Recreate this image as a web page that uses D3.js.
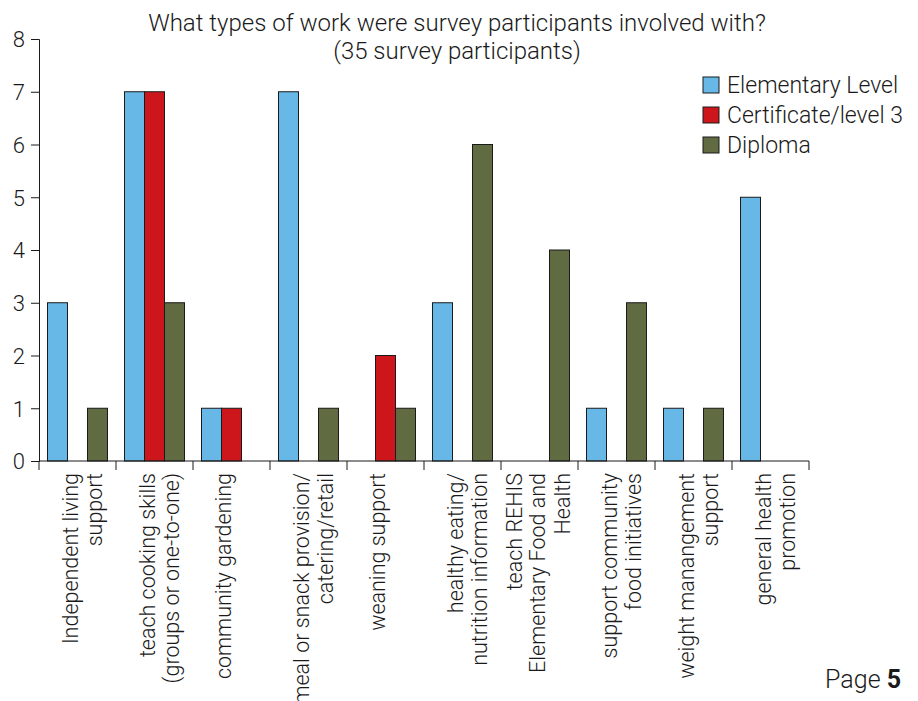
<!DOCTYPE html>
<html>
<head>
<meta charset="utf-8">
<script src="https://cdn.jsdelivr.net/npm/d3@7"></script>
<style>
  body { margin: 0; background: #fff; }
  svg text { font-family: Roboto, "Noto Sans", sans-serif; fill: #1a1a1a; font-weight: 300; }
</style>
</head>
<body>
<div id="chart"></div>
<script>
/*chart data*/
const categories = [
  ["Independent living", "support"],
  ["teach cooking skills", "(groups or one-to-one)"],
  ["community gardening"],
  ["meal or snack provision/", "catering/retail"],
  ["weaning support"],
  ["healthy eating/", "nutrition information"],
  ["teach REHIS", "Elementary Food and", "Health"],
  ["support community", "food initiatives"],
  ["weight manangement", "support"],
  ["general health", "promotion"]
];
const seriesNames = ["Elementary Level", "Certificate/level 3", "Diploma"];
const elementary  = [3, 7, 1, 7, 0, 3, 0, 1, 1, 5];
const certificate = [0, 7, 1, 0, 2, 0, 0, 0, 0, 0];
const diploma     = [1, 3, 0, 1, 1, 6, 4, 3, 1, 0];
const yTicks = [0, 1, 2, 3, 4, 5, 6, 7, 8];
const colors = ["#67b8e7", "#cd161c", "#616b42"];

const width = 918;
const height = 701;
const plotLeft = 39, plotRight = 809, plotTop = 39, plotBottom = 461;

const svg = d3.select("#chart")
  .append("svg")
  .attr("width", width)
  .attr("height", height);

const catIdx = d3.range(categories.length);
const x0 = d3.scaleBand().domain(catIdx).range([plotLeft, plotRight]);
const x1 = d3.scaleBand().domain(d3.range(3)).range([8.5, 68.5]);
const y = d3.scaleLinear().domain([0, 8]).range([plotBottom, plotTop]);

/*bars*/
const allSeries = [elementary, certificate, diploma];
allSeries.forEach((vals, s) => {
  svg.append("g").selectAll("rect")
    .data(vals.map((v, i) => ({v: v, i: i})).filter(d => d.v > 0))
    .join("rect")
    .attr("x", d => x0(d.i) + x1(s))
    .attr("y", d => y(d.v))
    .attr("width", x1.bandwidth())
    .attr("height", d => y(0) - y(d.v))
    .attr("fill", colors[s])
    .attr("stroke", "#1a1a1a")
    .attr("stroke-width", 1);
});

/*y axis*/
const yAxis = svg.append("g")
  .attr("transform", `translate(${plotLeft},0)`)
  .call(d3.axisLeft(y).tickValues(yTicks).tickSize(8).tickPadding(6).tickFormat(d3.format("d")));
yAxis.select(".domain").attr("stroke", "#1a1a1a");
yAxis.selectAll(".tick line").attr("stroke", "#1a1a1a");
yAxis.selectAll("text").style("font-size", "22px").attr("fill", "#1a1a1a").attr("dy", "0.36em");

/*x axis - ticks at category boundaries*/
const boundaries = catIdx.map(i => x0(i)).concat([plotRight]);
svg.append("line")
  .attr("x1", plotLeft).attr("x2", plotRight)
  .attr("y1", plotBottom).attr("y2", plotBottom)
  .attr("stroke", "#1a1a1a");
svg.append("g").selectAll("line")
  .data(boundaries)
  .join("line")
  .attr("x1", d => d).attr("x2", d => d)
  .attr("y1", plotBottom).attr("y2", plotBottom + 9)
  .attr("stroke", "#1a1a1a");

/*category labels, rotated*/
const lineOffsets = {1: [-1], 2: [0, 24], 3: [-18, 5.5, 30.5]};
categories.forEach((lines, i) => {
  const cx = x0(i) + x0.bandwidth() / 2;
  lines.forEach((t, k) => {
    const bx = cx + lineOffsets[lines.length][k];
    svg.append("text")
      .attr("transform", `translate(${bx},${plotBottom + 12}) rotate(-90)`)
      .attr("text-anchor", "end")
      .style("font-size", "21.5px")
      .text(t);
  });
});

/*title*/
svg.append("text")
  .attr("x", 457).attr("y", 31)
  .attr("text-anchor", "middle")
  .style("font-size", "24px")
  .text("What types of work were survey participants involved with?");
svg.append("text")
  .attr("x", 457).attr("y", 59)
  .attr("text-anchor", "middle")
  .style("font-size", "24px")
  .text("(35 survey participants)");

/*legend*/
const legend = svg.append("g").attr("transform", "translate(703,77)");
seriesNames.forEach((name, s) => {
  const g = legend.append("g").attr("transform", `translate(0,${s * 30})`);
  g.append("rect")
    .attr("width", 16).attr("height", 16)
    .attr("fill", colors[s])
    .attr("stroke", "#1a1a1a");
  g.append("text")
    .attr("x", 24).attr("y", 8)
    .attr("dy", "0.36em")
    .style("font-size", "23px")
    .text(name);
});

/*page number*/
const page = svg.append("text")
  .attr("x", 901).attr("y", 688)
  .attr("text-anchor", "end")
  .style("font-size", "25px");
page.append("tspan").text("Page ");
page.append("tspan").style("font-weight", "bold").text("5");
</script>
</body>
</html>
